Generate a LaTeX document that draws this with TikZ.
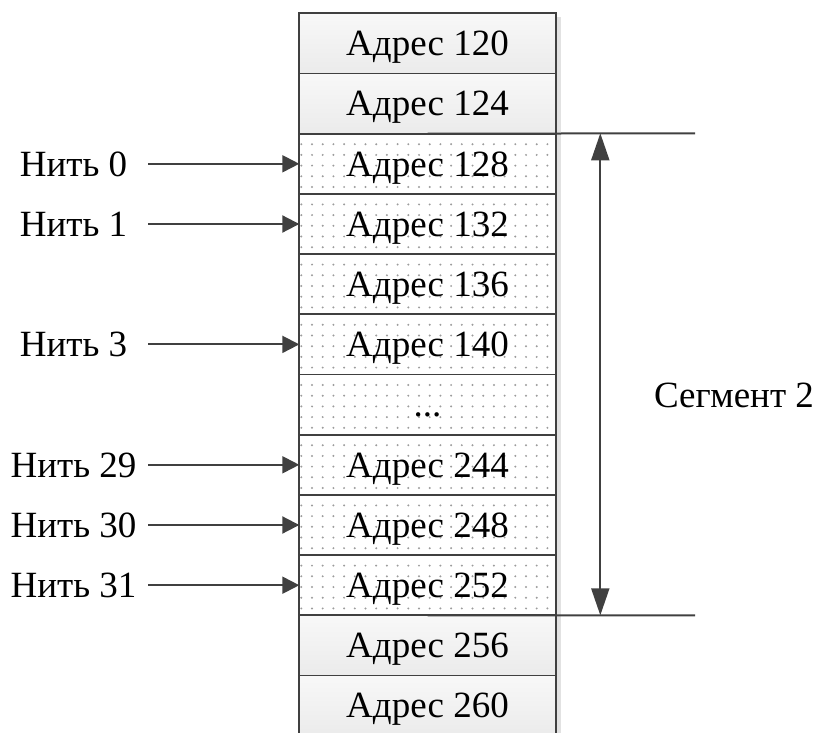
\documentclass[tikz,border=0pt]{standalone}
\usepackage{fontspec}
\setmainfont{Liberation Serif}
\usetikzlibrary{arrows.meta}
\definecolor{linec}{HTML}{404040}
\definecolor{dotgray}{HTML}{9C9C9C}
\definecolor{celltop}{HTML}{F8F8F8}
\definecolor{cellbot}{HTML}{EBEBEB}
\definecolor{shadowc}{HTML}{E2E2E2}
\tikzset{
  txt/.style={font=\fontsize{37pt}{42pt}\selectfont, text height=24.5pt, text depth=0pt, inner sep=0pt, outer sep=0pt},
  cell/.style={txt, draw=linec, line width=1.8pt, minimum width=256.4pt, minimum height=60.2pt},
  plaincell/.style={cell, top color=celltop, bottom color=cellbot},
  dotcell/.style={cell, fill=white, path picture={
    \foreach \i in {0,...,23}{\foreach \j in {0,...,4}{
      \fill[dotgray] ([xshift=2pt+\i*10.7pt, yshift=-10.5pt-\j*10.7pt]path picture bounding box.north west) circle[radius=1.1pt];
    }}}},
  thread/.style={txt, minimum width=149pt, align=center},
  conn/.style={draw=linec, line width=2pt},
  tharrow/.style={conn, -{Triangle[length=17pt,width=17pt]}},
  segarrow/.style={conn, {Triangle[length=27pt,width=18pt]}-{Triangle[length=27pt,width=18pt]}}
}
\begin{document}
\begin{tikzpicture}[x=1pt,y=-1pt]
\useasboundingbox (0,0) rectangle (816,733);
\clip (0,0) rectangle (816,733);
% shadow on the right side of the stack
\fill[shadowc] (556.5,17) rectangle (561,740);
% memory cells
\node[plaincell] (c0) at (427.5,43.4) {Адрес 120};
\node[plaincell] (c1) at (427.5,103.6) {Адрес 124};
\node[dotcell] (c2) at (427.5,163.8) {Адрес 128};
\node[dotcell] (c3) at (427.5,224.0) {Адрес 132};
\node[dotcell] (c4) at (427.5,284.2) {Адрес 136};
\node[dotcell] (c5) at (427.5,344.4) {Адрес 140};
\node[dotcell] (c6) at (427.5,404.6) {...};
\node[dotcell] (c7) at (427.5,464.8) {Адрес 244};
\node[dotcell] (c8) at (427.5,525.0) {Адрес 248};
\node[dotcell] (c9) at (427.5,585.2) {Адрес 252};
\node[plaincell] (c10) at (427.5,645.4) {Адрес 256};
\node[plaincell] (c11) at (427.5,705.6) {Адрес 260};
% threads
\node[thread] (t0) at (73.5,163.8) {Нить 0};
\node[thread] (t1) at (73.5,224.0) {Нить 1};
\node[thread] (t3) at (73.5,344.4) {Нить 3};
\node[thread] (t29) at (73.5,464.8) {Нить 29};
\node[thread] (t30) at (73.5,525.0) {Нить 30};
\node[thread] (t31) at (73.5,585.2) {Нить 31};
\draw[tharrow] (t0.east) -- (c2.west);
\draw[tharrow] (t1.east) -- (c3.west);
\draw[tharrow] (t3.east) -- (c5.west);
\draw[tharrow] (t29.east) -- (c7.west);
\draw[tharrow] (t30.east) -- (c8.west);
\draw[tharrow] (t31.east) -- (c9.west);
% segment
\coordinate (sT) at (695,133.3);
\coordinate (sB) at (695,615.3);
\coordinate (aT) at (600.3,133.3);
\coordinate (aB) at (600.3,615.3);
\draw[conn] (c2.north) -- (sT);
\draw[conn] (c9.south) -- (sB);
\draw[segarrow] (aT) -- (aB);
\node[txt] (seg) at (734,395) {Сегмент 2};
\end{tikzpicture}
\end{document}
